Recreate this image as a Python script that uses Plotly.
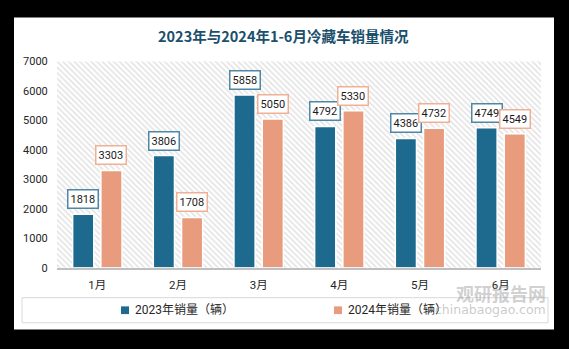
import plotly.graph_objects as go

months = ["1月", "2月", "3月", "4月", "5月", "6月"]
sales_2023 = [1818, 3806, 5858, 4792, 4386, 4749]
sales_2024 = [3303, 1708, 5050, 5330, 4732, 4549]
series_names = ["2023年销量（辆）", "2024年销量（辆）"]
title_text = "2023年与2024年1-6月冷藏车销量情况"
y_ticks = [0, 1000, 2000, 3000, 4000, 5000, 6000, 7000]

W, H = 569, 349
BLUE = "#1E6A8E"
SALMON = "#E89C7D"
BLUE_BORDER = "#4F87A6"
SALMON_BORDER = "#F0B095"
FONT = "Roboto, 'Noto Sans CJK SC', sans-serif"
CJK = "'Noto Sans CJK SC', sans-serif"

def px(x):
    return x / W

def py(y):
    return 1 - y / H

fig = go.Figure()

# hatched plot background
fig.add_trace(go.Bar(
    x=[0.5], y=[y_ticks[-1]], width=[1], xaxis="x", yaxis="y",
    marker=dict(color="white", line=dict(width=0),
                pattern=dict(shape="\\", fgcolor="#C8C8C8", bgcolor="white", size=4, solidity=0.4)),
    showlegend=False, hoverinfo="skip",
))

fig.add_trace(go.Bar(
    x=months, y=sales_2023, name=series_names[0], xaxis="x2", yaxis="y",
    marker=dict(color=BLUE, line=dict(color="white", width=1.5)), showlegend=False,
))
fig.add_trace(go.Bar(
    x=months, y=sales_2024, name=series_names[1], xaxis="x2", yaxis="y",
    marker=dict(color=SALMON, line=dict(color="white", width=1.5)), showlegend=False,
))

annotations = []
for m, v in zip(months, sales_2023):
    annotations.append(dict(x=m, y=v, xref="x2", yref="y", text=str(v), showarrow=False,
                            xshift=-14, yshift=5, yanchor="bottom", bgcolor="white",
                            bordercolor=BLUE_BORDER, borderwidth=1.5, borderpad=2,
                            font=dict(family=FONT, size=11, color="#1a1a1a")))
for m, v in zip(months, sales_2024):
    annotations.append(dict(x=m, y=v, xref="x2", yref="y", text=str(v), showarrow=False,
                            xshift=14, yshift=5, yanchor="bottom", bgcolor="white",
                            bordercolor=SALMON_BORDER, borderwidth=1.5, borderpad=2,
                            font=dict(family=FONT, size=11, color="#1a1a1a")))

# title
annotations.append(dict(x=px(283), y=py(31), xref="paper", yref="paper", text="<b>" + title_text + "</b>",
                        showarrow=False, xanchor="center", yanchor="middle",
                        font=dict(family=CJK, size=14.5, color="#1B4F6C")))

# manual legend
shapes = [
    dict(type="rect", xref="paper", yref="paper", x0=px(14), x1=px(554), y0=py(336), y1=py(12),
         fillcolor="white", line=dict(width=0), layer="below"),
    dict(type="rect", xref="paper", yref="paper", x0=px(22), x1=px(548), y0=py(329), y1=py(303),
         fillcolor="rgba(0,0,0,0)", line=dict(color="#D9D9D9", width=1), layer="above"),
]
for cx, color, name in [(125, BLUE, series_names[0]), (338, SALMON, series_names[1])]:
    shapes.append(dict(type="rect", xref="paper", yref="paper", x0=px(cx - 4), x1=px(cx + 4),
                       y0=py(320), y1=py(312), fillcolor=color, line=dict(width=0)))
    annotations.append(dict(x=px(cx + 8), y=py(316), xref="paper", yref="paper", text=name,
                            showarrow=False, xanchor="left", yanchor="middle",
                            font=dict(family=FONT, size=12, color="#262626")))

# watermark
annotations.append(dict(x=px(548), y=py(298), xref="paper", yref="paper", text="<b>观研报告网</b>",
                        showarrow=False, xanchor="right", yanchor="middle",
                        font=dict(family=CJK, size=18, color="rgba(150,150,150,0.45)")))
annotations.append(dict(x=px(548), y=py(315), xref="paper", yref="paper", text="chinabaogao.com",
                        showarrow=False, xanchor="right", yanchor="middle",
                        font=dict(family="'DejaVu Sans', sans-serif", size=12.5, color="rgba(150,150,150,0.5)")))

fig.update_layout(
    width=W, height=H,
    margin=dict(l=0, r=0, t=0, b=0),
    paper_bgcolor="black",
    plot_bgcolor="white",
    barmode="group",
    bargap=0.30,
    bargroupgap=0.25,
    showlegend=False,
    xaxis=dict(domain=[px(57), px(541)], range=[0, 1], visible=False, fixedrange=True),
    xaxis2=dict(domain=[px(57), px(541)], overlaying="x", anchor="y", type="category",
                showline=True, linecolor="#BFBFBF", linewidth=1.5, showgrid=False,
                ticks="outside", ticklen=6, tickcolor="rgba(0,0,0,0)",
                tickfont=dict(family=FONT, size=11.5, color="#262626")),
    yaxis=dict(domain=[py(272), py(57.5)], range=[0, 7000], tickvals=y_ticks,
               showgrid=False, zeroline=False, showline=False,
               ticks="outside", ticklen=6, tickcolor="rgba(0,0,0,0)",
               tickfont=dict(family=FONT, size=11, color="#262626")),
    annotations=annotations,
    shapes=shapes,
)

fig.write_html("out.html")
